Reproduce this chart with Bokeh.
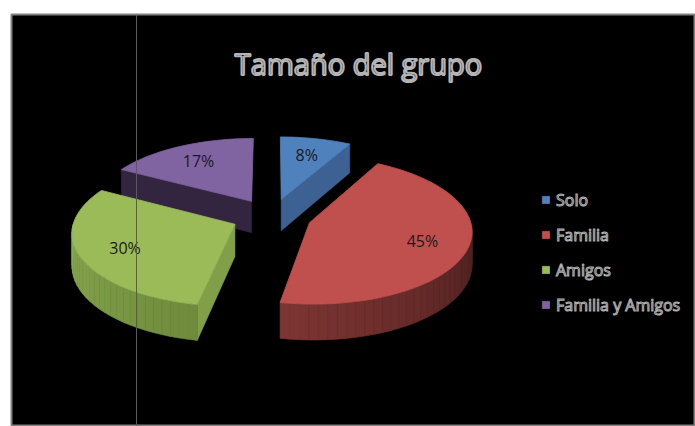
import numpy as np
from bokeh.plotting import figure
from bokeh.models import Range1d, Legend, LegendItem, Span, ColumnDataSource
from bokeh.core.properties import value
from bokeh.embed import file_html
from bokeh.resources import INLINE

# ---- data ----
title = "Tamaño del grupo"
categories = ["Solo", "Familia", "Amigos", "Familia y Amigos"]
percents = [8, 45, 30, 17]
pct_labels = ["8%", "45%", "30%", "17%"]

# ---- style ----
top_colors = ["#4F81BD", "#C0504D", "#9BBB59", "#8064A2"]
radial_wall_colors = ["#3D6192", "#7A3431", "#819F48", "#33243F"]
wall_light = ["#3D6192", "#7D3532", "#8AAB50", "#3A2A4A"]
wall_dark = ["#2E4A70", "#4A1F1F", "#6E8A3B", "#2A1E36"]

W, H = 695, 426
CX, CY = 271, 216      # pie centre (screen px)
RX, RY = 160, 72       # ellipse radii
DEPTH = 32             # thickness of the pie
EXPLODE = 0.25
PERSP = 0.1
LABEL_R = 0.72


def proj(u, v, dz=0.0):
    u = np.asarray(u, dtype=float)
    v = np.asarray(v, dtype=float)
    s = 1.0 / (1.0 - PERSP * v)
    return CX + RX * u * s, CY + RY * v * s + DEPTH * s * dz


def hex2rgb(h):
    h = h.lstrip("#")
    return np.array([int(h[i:i + 2], 16) for i in (0, 2, 4)], dtype=float)


def mix(c1, c2, t):
    c = hex2rgb(c1) * (1 - t) + hex2rgb(c2) * t
    return "#%02x%02x%02x" % tuple(int(round(x)) for x in c)


p = figure(width=W, height=H, x_range=Range1d(11, W), y_range=Range1d(H, 14),
           output_backend="svg", toolbar_location=None,
           x_axis_type=None, y_axis_type=None,
           background_fill_color="black", border_fill_color="white",
           min_border_left=11, min_border_top=14, min_border_right=0, min_border_bottom=0,
           outline_line_color="#808080", outline_line_width=2)
p.grid.visible = False

p.add_layout(Span(location=136, dimension="height", line_color="#5a5a5a", line_width=1))

total = float(sum(percents))
starts = []
acc = 0.0
for v in percents:
    starts.append(acc / total * 360.0)
    acc += v
ends = starts[1:] + [360.0]

slices = []
for i in range(len(percents)):
    a0, a1 = starts[i], ends[i]
    m = np.radians((a0 + a1) / 2)
    ou, ov = EXPLODE * np.sin(m), -EXPLODE * np.cos(m)
    slices.append((i, a0, a1, m, ou, ov))

order = sorted(slices, key=lambda s: s[5])
top_renderers = {}
for (i, a0, a1, m, ou, ov) in order:
    xs_w, ys_w, cs_w = [], [], []
    # radial walls
    for ang, vis in ((a0, np.sin(np.radians(a0)) < -1e-6), (a1, np.sin(np.radians(a1)) > 1e-6)):
        if vis:
            t = np.radians(ang)
            us = [ou, ou + np.sin(t), ou + np.sin(t), ou]
            vs = [ov, ov - np.cos(t), ov - np.cos(t), ov]
            dz = [0, 0, 1, 1]
            X, Y = proj(us, vs, np.array(dz, dtype=float))
            xs_w.append(list(X)); ys_w.append(list(Y)); cs_w.append(radial_wall_colors[i])
    # outer wall (front half)
    lo, hi = max(a0, 90.0), min(a1, 270.0)
    if hi > lo:
        n = max(2, int((hi - lo) / 3))
        th = np.linspace(lo, hi, n + 1)
        for k in range(n):
            t1, t2 = np.radians(th[k]), np.radians(th[k + 1])
            us = [ou + np.sin(t1), ou + np.sin(t2), ou + np.sin(t2), ou + np.sin(t1)]
            vs = [ov - np.cos(t1), ov - np.cos(t2), ov - np.cos(t2), ov - np.cos(t1)]
            X, Y = proj(us, vs, np.array([0, 0, 1, 1], dtype=float))
            frac = (k + 0.5) / n
            xs_w.append(list(X)); ys_w.append(list(Y)); cs_w.append(mix(wall_dark[i], wall_light[i], frac))
    if xs_w:
        src = ColumnDataSource(dict(xs=xs_w, ys=ys_w, c=cs_w))
        p.patches("xs", "ys", source=src, fill_color="c", line_color="c", line_width=0.6)
    # top face
    th = np.radians(np.linspace(a0, a1, max(4, int((a1 - a0) / 2))))
    us = np.concatenate([[ou], ou + np.sin(th)])
    vs = np.concatenate([[ov], ov - np.cos(th)])
    X, Y = proj(us, vs)
    r = p.patch(list(X), list(Y), fill_color=top_colors[i], line_color=top_colors[i], line_width=0.8)
    top_renderers[i] = r

# percentage labels
lx, ly = [], []
for (i, a0, a1, m, ou, ov) in slices:
    X, Y = proj(ou + LABEL_R * np.sin(m), ov - LABEL_R * np.cos(m))
    lx.append(float(X)); ly.append(float(Y))
p.text(x=lx, y=ly, text=pct_labels, text_align="center", text_baseline="middle",
       text_font=value("Open Sans"), text_font_size="16px", text_color="#1a1a1a")

# title
p.text(x=[358], y=[63], text=[title], text_align="center", text_baseline="alphabetic",
       text_font=value("Open Sans"), text_font_size="29px", text_color="black",
       text_outline_color="#b4b4b4")

legend = Legend(items=[LegendItem(label=c, renderers=[top_renderers[i]]) for i, c in enumerate(categories)],
                location=(530, 110), orientation="vertical",
                glyph_width=9, glyph_height=9, label_height=23, spacing=12,
                padding=0, margin=0, border_line_color=None, background_fill_alpha=0,
                label_standoff=6, label_text_font="Open Sans", label_text_font_size="16px",
                label_text_color="black", label_text_outline_color="#b0b0b0")
p.add_layout(legend)

open("out.html", "w").write(file_html(p, INLINE))
